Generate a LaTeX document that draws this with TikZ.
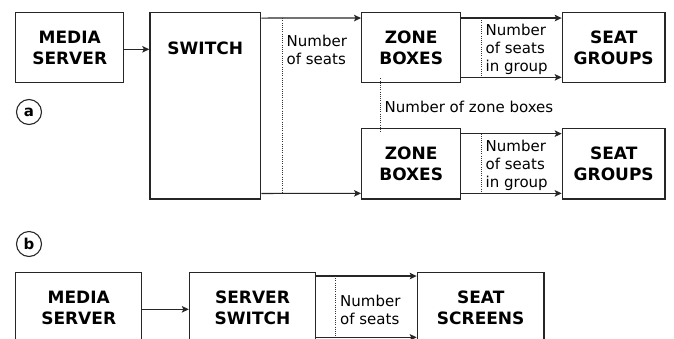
\documentclass[tikz,border=0pt]{standalone}
\usepackage{fontspec}
\setmainfont{DejaVu Sans}
\usetikzlibrary{arrows.meta,calc}
\tikzset{
  blk/.style={draw=black!85, line width=1.3pt, inner sep=0pt, align=center,
    font=\bfseries\fontsize{17}{21.5}\selectfont},
  arr/.style={draw=black!85, line width=1.2pt, -{Stealth[length=7pt,width=6.5pt,inset=1.5pt]}},
  dots/.style={draw=black!80, line width=0.9pt, dash pattern=on 1pt off 1.2pt},
  lbl/.style={inner sep=0pt, align=left, anchor=west,
    font=\fontsize{15}{18}\selectfont},
  tag/.style={circle, draw=black!85, line width=1.1pt, inner sep=0pt, minimum size=25pt,
    font=\bfseries\fontsize{15}{15}\selectfont}
}
\begin{document}
\begin{tikzpicture}[x=1pt,y=-1pt]
\useasboundingbox (0,0) rectangle (674,338);
\clip (0,0) rectangle (674,338);
% (a)
\node[blk, minimum width=108pt, minimum height=70pt] (msa) at (69.7,47.7) {MEDIA\\SERVER};
\node[blk, minimum width=110.7pt, minimum height=186.3pt] (swa) at (205.3,105.9) {};
\node[inner sep=0pt, font=\bfseries\fontsize{17}{21.5}\selectfont] (swt) at (205.3,48) {SWITCH};
\node[blk, minimum width=99pt, minimum height=70pt] (zb1) at (411.2,47.7) {ZONE\\BOXES};
\node[blk, minimum width=102.7pt, minimum height=70pt] (sg1) at (613.7,47.7) {SEAT\\GROUPS};
\node[blk, minimum width=99pt, minimum height=70.7pt] (zb2) at (411.2,163.65) {ZONE\\BOXES};
\node[blk, minimum width=102.7pt, minimum height=70.7pt] (sg2) at (613.7,163.65) {SEAT\\GROUPS};
\node[tag] (ta) at (29,112) {a};

\draw[arr] ([yshift=-1.6pt]msa.east) -- ([yshift=-1.6pt]msa.east -| swa.west);
\draw[arr] ([yshift=-6pt]swa.north east) -- ([yshift=-6pt]zb1.north west);
\draw[arr] ([yshift=6.3pt]swa.south east) -- ([yshift=6.3pt]zb2.south west);
\coordinate (d1t) at ([yshift=-6pt,xshift=21pt]swa.north east);
\coordinate (d1b) at ([yshift=6.3pt,xshift=21pt]swa.south east);
\draw[dots] (d1t) -- (d1b);
\node[lbl] (l1) at (286.5,50) {Number\\of seats};

\draw[arr] ([yshift=-6pt]zb1.north east) -- ([yshift=-6pt]sg1.north west);
\draw[arr] ([yshift=6pt]zb1.south east) -- ([yshift=6pt]sg1.south west);
\coordinate (d2t) at ([yshift=-6pt,xshift=20pt]zb1.north east);
\coordinate (d2b) at ([yshift=6pt,xshift=20pt]zb1.south east);
\draw[dots] (d2t) -- (d2b);
\node[lbl] (l2) at (485.5,49) {Number\\of seats\\in group};

\draw[arr] ([yshift=-6pt]zb2.north east) -- ([yshift=-6pt]sg2.north west);
\draw[arr] ([yshift=6.3pt]zb2.south east) -- ([yshift=6.3pt]sg2.south west);
\coordinate (d3t) at ([yshift=-6pt,xshift=20pt]zb2.north east);
\coordinate (d3b) at ([yshift=6.3pt,xshift=20pt]zb2.south east);
\draw[dots] (d3t) -- (d3b);
\node[lbl] (l3) at (485.5,165) {Number\\of seats\\in group};

\coordinate (d4t) at ([yshift=5pt,xshift=19pt]zb1.south west);
\coordinate (d4b) at ([yshift=-5.5pt,xshift=19pt]zb2.north west);
\draw[dots] (d4t) -- (d4b);
\node[lbl] (l4) at (384.5,106.5) {Number of zone boxes};

% (b)
\node[tag] (tb) at (29,244) {b};
\node[blk, minimum width=126pt, minimum height=70pt] (msb) at (78.7,307.7) {MEDIA\\SERVER};
\node[blk, minimum width=126pt, minimum height=70pt] (ssb) at (252.5,307.7) {SERVER\\SWITCH};
\node[blk, minimum width=126.7pt, minimum height=70pt] (scb) at (480.7,307.7) {SEAT\\SCREENS};
\draw[arr] ([yshift=-1.6pt]msb.east) -- ([yshift=-1.6pt]msb.east -| ssb.west);
\draw[arr] ([yshift=-4pt]ssb.north east) -- ([yshift=-4pt]scb.north west);
\draw[arr] ([yshift=6pt]ssb.south east) -- ([yshift=6pt]scb.south west);
\coordinate (d5t) at ([yshift=-4pt,xshift=19pt]ssb.north east);
\coordinate (d5b) at ([yshift=6pt,xshift=19pt]ssb.south east);
\draw[dots] (d5t) -- (d5b);
\node[lbl] (l5) at (340,310) {Number\\of seats};
\end{tikzpicture}
\end{document}
